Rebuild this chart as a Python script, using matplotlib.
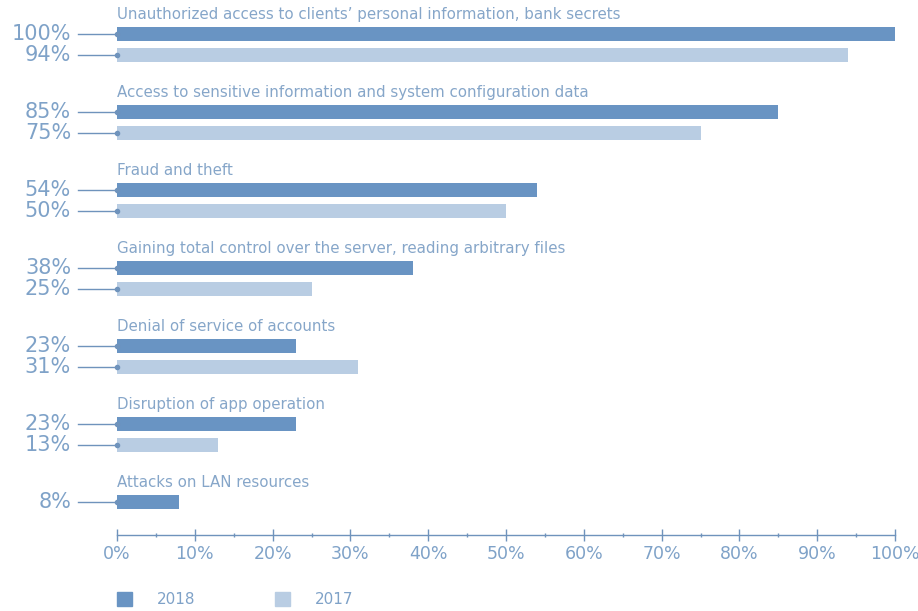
import matplotlib.pyplot as plt
import numpy as np

categories = [
    "Unauthorized access to clients\u2019 personal information, bank secrets",
    "Access to sensitive information and system configuration data",
    "Fraud and theft",
    "Gaining total control over the server, reading arbitrary files",
    "Denial of service of accounts",
    "Disruption of app operation",
    "Attacks on LAN resources",
]
values_2018 = [100, 85, 54, 38, 23, 23, 8]
values_2017 = [94, 75, 50, 25, 31, 13, None]

dark = "#6994c3"
light = "#b9cde3"
txt = "#7fa2c8"
cat_txt = "#86a6c9"

plt.rcParams["font.family"] = ["DejaVu Sans"]

fig = plt.figure(figsize=(9.18, 6.11), dpi=100)
ax = fig.add_axes([117 / 918, 1 - 535 / 611, 778 / 918, 535 / 611])
ax.set_xlim(0, 100)
ax.set_ylim(6.423, -0.436)

bh = 0.19
off = 0.27
y = np.arange(len(categories))

ax.barh(y, values_2018, height=bh, color=dark, align="center")
y17 = [yy + off for yy, v in zip(y, values_2017) if v is not None]
v17 = [v for v in values_2017 if v is not None]
ax.barh(y17, v17, height=bh, color=light, align="center")

for yy, cat in zip(y, categories):
    ax.text(0, yy - 0.245, cat, fontsize=10.8, color=cat_txt, va="center", ha="left")

def pct_label(yy, v):
    ax.text(-5.9, yy, f"{v}%", fontsize=15, color=txt, ha="right", va="center",
            clip_on=False)
    ax.plot([-5.0, 0], [yy, yy], color="#6f93bc", lw=1.0, clip_on=False)
    ax.plot([0], [yy], marker="o", ms=3, color="#6f93bc", clip_on=False)

for yy, v in zip(y, values_2018):
    pct_label(yy, v)
for yy, v in zip(y17, v17):
    pct_label(yy, v)

for s in ["top", "right", "left"]:
    ax.spines[s].set_visible(False)
ax.spines["bottom"].set_color("#6f93bc")
ax.spines["bottom"].set_linewidth(1.0)
ax.set_yticks([])
ax.set_xticks(np.arange(0, 101, 10))
ax.set_xticklabels([f"{t}%" for t in range(0, 101, 10)])
ax.set_xticks(np.arange(5, 100, 10), minor=True)
ax.tick_params(axis="x", which="major", direction="inout", length=8, width=1,
               color="#6f93bc", labelcolor=txt, labelsize=12.5, pad=3)
ax.tick_params(axis="x", which="minor", direction="inout", length=3, width=1,
               color="#6f93bc")

# legend
lx = [117 / 918, 275 / 918]
labels = ["2018", "2017"]
cols = [dark, light]
for x0, lab, c in zip(lx, labels, cols):
    fig.patches.append(plt.Rectangle((x0, 1 - 606 / 611), 15 / 918, 14 / 611,
                                     transform=fig.transFigure, color=c))
    fig.text(x0 + 40 / 918, 1 - 600 / 611, lab, fontsize=11, color=txt,
             va="center", ha="left")

fig.savefig("out.png", dpi=100)
